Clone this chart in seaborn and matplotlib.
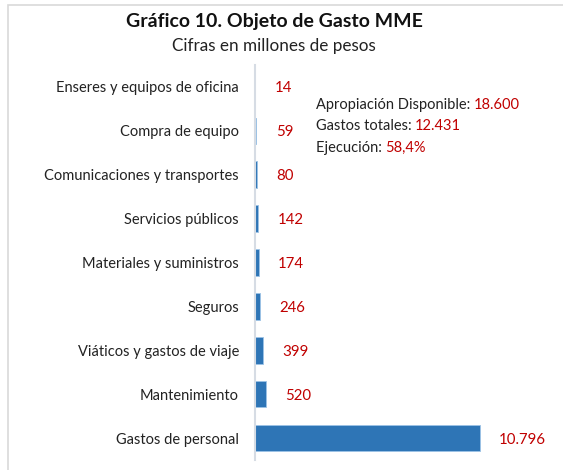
import seaborn as sns
import matplotlib.pyplot as plt
import pandas as pd
from matplotlib.patches import Rectangle

# Data (millones de pesos)
categorias = ['Enseres y equipos de oficina', 'Compra de equipo',
              'Comunicaciones y transportes', 'Servicios públicos',
              'Materiales y suministros', 'Seguros',
              'Viáticos y gastos de viaje', 'Mantenimiento',
              'Gastos de personal']
valores = [14, 59, 80, 142, 174, 246, 399, 520, 10796]
etiquetas = ['14', '59', '80', '142', '174', '246', '399', '520', '10.796']

df = pd.DataFrame({'categoria': categorias, 'valor': valores})

sns.set_style('white')
plt.rcParams['font.family'] = ['Lato', 'DejaVu Sans']

azul = '#2E75B6'
rojo = '#C00000'

fig = plt.figure(figsize=(5.63, 4.70), dpi=100)
ax = fig.add_axes([0.453, 0.021, 0.506, 0.841])

sns.barplot(data=df, y='categoria', x='valor', color=azul, width=0.6,
            edgecolor='#9DC3E6', linewidth=0.6, ax=ax, saturation=1)

ax.set_xlim(0, 13700)
ax.set_xlabel('')
ax.set_ylabel('')
ax.set_xticks([])
ax.tick_params(axis='y', length=0, pad=11.5, labelsize=10.5, labelcolor='#222222')
for s in ['top', 'right', 'bottom']:
    ax.spines[s].set_visible(False)
ax.spines['left'].set_color('#D6DCE4')
ax.spines['left'].set_linewidth(1.5)

for i, (v, t) in enumerate(zip(valores, etiquetas)):
    ax.annotate(t, xy=(v, i), xytext=(14, -1), textcoords='offset points',
                va='center', ha='left', color=rojo, fontsize=10.8)

# title and subtitle
fig.text(0.487, 0.955, 'Gráfico 10. Objeto de Gasto MME', ha='center', va='center',
         fontsize=14, fontweight='bold', color='#111111')
fig.text(0.487, 0.903, 'Cifras en millones de pesos', ha='center', va='center',
         fontsize=12.3, color='#222222')

# summary box
resumen = [('Apropiación Disponible: ', '18.600'),
           ('Gastos totales: ', '12.431'),
           ('Ejecución: ', '58,4%')]
y0 = 0.776
for k, (a, b) in enumerate(resumen):
    t = fig.text(0.561, y0 - k * 0.045, a, ha='left', va='center',
                 fontsize=10.5, color='#222222')
    fig.canvas.draw()
    bb = t.get_window_extent()
    fig.text(bb.x1 / fig.bbox.width, y0 - k * 0.045, b, ha='left', va='center',
             fontsize=10.5, color=rojo)

# chart frame (left and top edges visible)
fig.patches.append(Rectangle((8 / 563, -0.05), 1.1, 1.05 - 5 / 470,
                             transform=fig.transFigure, fill=False,
                             edgecolor='#D9D9D9', linewidth=1.2))

fig.savefig('out.png', dpi=100)
